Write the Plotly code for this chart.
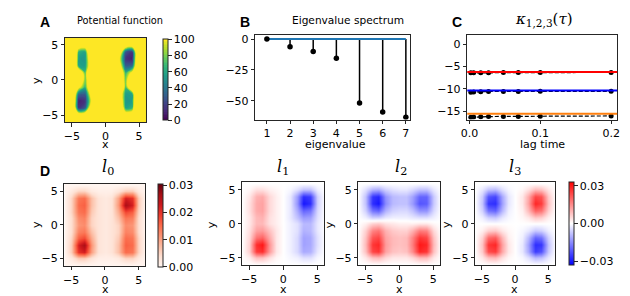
import plotly.graph_objects as go

# ---------------- data ----------------
grid = [-6, -5, -4, -3, -2, -1, 0, 1, 2, 3, 4, 5, 6]

# rows listed from y=6 (top) down to y=-6 (bottom); columns x=-6..6
potential_rows = [
    [250, 250, 250, 250, 250, 250, 250, 250, 250, 250, 250, 250, 250],
    [250, 250, 140, 130, 250, 250, 250, 250, 250, 140, 130, 250, 250],
    [250, 230, 65, 58, 180, 250, 250, 250, 150, 28, 15, 180, 250],
    [250, 220, 55, 52, 150, 250, 250, 250, 110, 15, 8, 180, 250],
    [250, 220, 58, 55, 140, 250, 250, 250, 130, 30, 35, 180, 250],
    [250, 250, 150, 70, 200, 250, 250, 250, 160, 65, 110, 230, 250],
    [250, 250, 160, 75, 160, 250, 250, 250, 160, 75, 160, 250, 250],
    [250, 230, 110, 65, 160, 250, 250, 250, 200, 70, 150, 250, 250],
    [250, 180, 35, 30, 130, 250, 250, 250, 140, 55, 58, 220, 250],
    [250, 180, 8, 15, 110, 250, 250, 250, 150, 52, 55, 220, 250],
    [250, 180, 15, 28, 150, 250, 250, 250, 180, 58, 65, 230, 250],
    [250, 250, 130, 140, 250, 250, 250, 250, 250, 130, 140, 250, 250],
    [250, 250, 250, 250, 250, 250, 250, 250, 250, 250, 250, 250, 250],
]

l0_rows = [
    [0, 0, 0, 0, 0, 0, 0, 0, 0, 0, 0, 0, 0],
    [0, 0.002, 0.005, 0.005, 0.002, 0.001, 0.001, 0.001, 0.003, 0.006, 0.006, 0.002, 0],
    [0, 0.005, 0.014, 0.015, 0.007, 0.003, 0.002, 0.003, 0.010, 0.022, 0.020, 0.006, 0],
    [0, 0.005, 0.015, 0.016, 0.007, 0.003, 0.002, 0.003, 0.011, 0.026, 0.022, 0.006, 0],
    [0, 0.005, 0.014, 0.015, 0.006, 0.003, 0.002, 0.003, 0.009, 0.018, 0.016, 0.005, 0],
    [0, 0.004, 0.012, 0.013, 0.005, 0.003, 0.002, 0.003, 0.007, 0.014, 0.013, 0.004, 0],
    [0, 0.004, 0.011, 0.012, 0.005, 0.003, 0.002, 0.003, 0.005, 0.012, 0.011, 0.004, 0],
    [0, 0.004, 0.013, 0.014, 0.007, 0.003, 0.002, 0.003, 0.005, 0.013, 0.012, 0.004, 0],
    [0, 0.005, 0.016, 0.018, 0.009, 0.003, 0.002, 0.003, 0.006, 0.015, 0.014, 0.005, 0],
    [0, 0.006, 0.022, 0.026, 0.011, 0.003, 0.002, 0.003, 0.007, 0.016, 0.015, 0.005, 0],
    [0, 0.006, 0.020, 0.022, 0.010, 0.003, 0.002, 0.003, 0.007, 0.015, 0.014, 0.005, 0],
    [0, 0.002, 0.006, 0.006, 0.003, 0.001, 0.001, 0.001, 0.002, 0.005, 0.005, 0.002, 0],
    [0, 0, 0, 0, 0, 0, 0, 0, 0, 0, 0, 0, 0],
]

l1_rows = [
    [0, 0, 0, 0, 0, 0, 0, 0, 0, 0, 0, 0, 0],
    [0, 0.001, 0.004, 0.004, 0.002, 0.001, 0, -0.001, -0.004, -0.008, -0.008, -0.002, 0],
    [0, 0.003, 0.010, 0.011, 0.005, 0.002, 0, -0.003, -0.013, -0.027, -0.025, -0.006, 0],
    [0, 0.004, 0.011, 0.012, 0.005, 0.002, 0, -0.003, -0.014, -0.030, -0.027, -0.006, 0],
    [0, 0.004, 0.011, 0.012, 0.005, 0.002, 0, -0.003, -0.011, -0.020, -0.018, -0.005, 0],
    [0, 0.003, 0.009, 0.010, 0.004, 0.002, 0, -0.003, -0.008, -0.013, -0.012, -0.004, 0],
    [0, 0.003, 0.009, 0.009, 0.004, 0.002, 0, -0.002, -0.004, -0.009, -0.009, -0.003, 0],
    [0, 0.004, 0.012, 0.013, 0.008, 0.003, 0, -0.002, -0.004, -0.010, -0.009, -0.003, 0],
    [0, 0.005, 0.018, 0.020, 0.011, 0.003, 0, -0.002, -0.005, -0.012, -0.011, -0.004, 0],
    [0, 0.006, 0.027, 0.030, 0.014, 0.003, 0, -0.002, -0.005, -0.012, -0.011, -0.004, 0],
    [0, 0.006, 0.025, 0.027, 0.013, 0.003, 0, -0.002, -0.005, -0.011, -0.010, -0.003, 0],
    [0, 0.002, 0.008, 0.008, 0.004, 0.001, 0, -0.001, -0.002, -0.004, -0.004, -0.001, 0],
    [0, 0, 0, 0, 0, 0, 0, 0, 0, 0, 0, 0, 0],
]

l2_rows = [
    [0, 0, 0, 0, 0, 0, 0, 0, 0, 0, 0, 0, 0],
    [0, -0.004, -0.010, -0.011, -0.006, -0.004, -0.003, -0.003, -0.005, -0.008, -0.008, -0.003, 0],
    [0, -0.008, -0.026, -0.028, -0.014, -0.009, -0.008, -0.008, -0.012, -0.020, -0.020, -0.007, 0],
    [0, -0.008, -0.027, -0.030, -0.015, -0.009, -0.008, -0.008, -0.013, -0.022, -0.021, -0.007, 0],
    [0, -0.006, -0.018, -0.020, -0.010, -0.006, -0.005, -0.005, -0.008, -0.014, -0.014, -0.005, 0],
    [0, -0.002, -0.006, -0.006, -0.003, -0.002, -0.002, -0.002, -0.003, -0.004, -0.004, -0.002, 0],
    [0, 0.002, 0.006, 0.007, 0.004, 0.003, 0.002, 0.002, 0.002, 0.003, 0.003, 0.001, 0],
    [0, 0.006, 0.016, 0.018, 0.010, 0.007, 0.006, 0.006, 0.010, 0.017, 0.016, 0.005, 0],
    [0, 0.008, 0.022, 0.024, 0.012, 0.009, 0.008, 0.009, 0.016, 0.026, 0.024, 0.008, 0],
    [0, 0.009, 0.026, 0.028, 0.013, 0.009, 0.008, 0.009, 0.017, 0.030, 0.028, 0.009, 0],
    [0, 0.008, 0.024, 0.026, 0.012, 0.008, 0.007, 0.008, 0.015, 0.028, 0.026, 0.008, 0],
    [0, 0.003, 0.008, 0.009, 0.005, 0.003, 0.003, 0.003, 0.005, 0.009, 0.009, 0.003, 0],
    [0, 0, 0, 0, 0, 0, 0, 0, 0, 0, 0, 0, 0],
]

l3_rows = [
    [0, 0, 0, 0, 0, 0, 0, 0, 0, 0, 0, 0, 0],
    [0, -0.003, -0.008, -0.009, -0.004, -0.001, 0, 0.001, 0.004, 0.009, 0.008, 0.003, 0],
    [0, -0.007, -0.022, -0.024, -0.011, -0.003, 0, 0.003, 0.011, 0.024, 0.022, 0.007, 0],
    [0, -0.008, -0.026, -0.027, -0.012, -0.003, 0, 0.003, 0.012, 0.028, 0.025, 0.008, 0],
    [0, -0.006, -0.018, -0.020, -0.009, -0.002, 0, 0.002, 0.009, 0.020, 0.018, 0.006, 0],
    [0, -0.002, -0.006, -0.007, -0.003, -0.001, 0, 0.001, 0.003, 0.007, 0.006, 0.002, 0],
    [0, 0, 0, 0, 0, 0, 0, 0, 0, 0, 0, 0, 0],
    [0, 0.002, 0.006, 0.007, 0.003, 0.001, 0, -0.001, -0.003, -0.007, -0.006, -0.002, 0],
    [0, 0.006, 0.019, 0.021, 0.009, 0.002, 0, -0.002, -0.009, -0.020, -0.018, -0.006, 0],
    [0, 0.008, 0.026, 0.028, 0.012, 0.003, 0, -0.003, -0.012, -0.027, -0.026, -0.008, 0],
    [0, 0.007, 0.023, 0.025, 0.011, 0.003, 0, -0.003, -0.011, -0.025, -0.022, -0.007, 0],
    [0, 0.003, 0.008, 0.009, 0.004, 0.001, 0, -0.001, -0.004, -0.009, -0.008, -0.003, 0],
    [0, 0, 0, 0, 0, 0, 0, 0, 0, 0, 0, 0, 0],
]

eig_index = [1, 2, 3, 4, 5, 6, 7]
eig_values = [0.0, -6.2, -10.2, -15.6, -51.9, -59.2, -63.5]

lag_times = [0.002, 0.006, 0.016, 0.027, 0.048, 0.069, 0.1, 0.2]
kappa_true = [-6.2, -10.4, -15.6]
kappa_est = [
    [-6.4, -6.4, -6.35, -6.35, -6.3, -6.3, -6.3, -6.3],
    [-10.75, -10.7, -10.65, -10.6, -10.6, -10.6, -10.55, -10.55],
    [-16.4, -16.35, -16.3, -16.25, -16.2, -16.2, -16.15, -16.1],
]
kappa_colors = ["#ff0000", "#0000ff", "#ff7f0e"]

# ---------------- styles ----------------
FONT = "DejaVu Sans"
TICKF = dict(family=FONT, size=11, color="black")
LINEC = "#262626"
W, H = 630, 296

reds = ['rgb(255,245,240)', 'rgb(254,224,210)', 'rgb(252,187,161)', 'rgb(252,146,114)',
        'rgb(251,106,74)', 'rgb(239,59,44)', 'rgb(203,24,29)', 'rgb(165,15,21)', 'rgb(103,0,13)']
reds_scale = [[i / (len(reds) - 1), c] for i, c in enumerate(reds)]
bwr_scale = [[0, "rgb(0,0,255)"], [0.5, "rgb(255,255,255)"], [1, "rgb(255,0,0)"]]


def px_x(p):
    return p / W


def px_y(p):
    return 1 - p / H


fig = go.Figure()


def rev(rows):
    return rows[::-1]


y_grid = grid  # ascending


def cbar(x_left, top, bottom, tickvals, fmt):
    return dict(
        x=px_x(x_left), xanchor="left", xpad=0, ypad=0,
        y=px_y((top + bottom) / 2), yanchor="middle",
        len=(bottom - top) / H, lenmode="fraction", thickness=5,
        outlinewidth=1, outlinecolor=LINEC,
        ticks="outside", ticklen=3.5, tickwidth=1, tickcolor=LINEC,
        tickvals=tickvals, tickformat=fmt, tickfont=TICKF,
    )


# Panel A: potential drawn as finely-filled contours (true z interpolation, clipped at 100)
fig.add_trace(go.Contour(
    x=grid, y=y_grid, z=rev(potential_rows), zmin=0, zmax=100,
    autocontour=False, contours=dict(start=0, end=100, size=2, coloring="fill", showlines=False),
    line=dict(width=0), colorscale="Viridis", xaxis="x", yaxis="y",
    colorbar=cbar(159, 37.3, 119.3, [0, 20, 40, 60, 80, 100], "d"),
))

# Panel B: stem plot
stem_x, stem_y = [], []
for i, v in zip(eig_index, eig_values):
    stem_x += [i, i, None]
    stem_y += [0, v, None]
fig.add_trace(go.Scatter(x=stem_x, y=stem_y, mode="lines", line=dict(color="black", width=1.5),
                         xaxis="x2", yaxis="y2", showlegend=False, hoverinfo="skip"))
fig.add_trace(go.Scatter(x=[min(eig_index), max(eig_index)], y=[0, 0], mode="lines",
                         line=dict(color="#1f77b4", width=2), xaxis="x2", yaxis="y2", showlegend=False))
fig.add_trace(go.Scatter(x=eig_index, y=eig_values, mode="markers",
                         marker=dict(color="black", size=5.5), xaxis="x2", yaxis="y2", showlegend=False))

# Panel C
for kt, est, col in zip(kappa_true, kappa_est, kappa_colors):
    fig.add_shape(type="line", xref="x3 domain", yref="y3", x0=0, x1=1, y0=kt, y1=kt,
                  line=dict(color=col, width=2))
    fig.add_trace(go.Scatter(x=lag_times, y=est, mode="lines+markers",
                             line=dict(color="black", width=1.2, dash="4px,2px"),
                             marker=dict(color="black", size=5),
                             xaxis="x3", yaxis="y3", showlegend=False))

# Panel D
fig.add_trace(go.Heatmap(
    x=grid, y=y_grid, z=rev(l0_rows), zmin=0, zmax=0.0305, zsmooth="best",
    colorscale=reds_scale, xaxis="x4", yaxis="y4",
    colorbar=cbar(153.3, 183.3, 266.7, [0, 0.01, 0.02, 0.03], ".2f"),
))
for rows, xa, ya in [(l1_rows, "x5", "y5"), (l2_rows, "x6", "y6")]:
    fig.add_trace(go.Heatmap(
        x=grid, y=y_grid, z=rev(rows), zmin=-0.033, zmax=0.033, zsmooth="best",
        colorscale=bwr_scale, xaxis=xa, yaxis=ya, showscale=False))
fig.add_trace(go.Heatmap(
    x=grid, y=y_grid, z=rev(l3_rows), zmin=-0.033, zmax=0.033, zsmooth="best",
    colorscale=bwr_scale, xaxis="x7", yaxis="y7",
    colorbar=cbar(571, 181, 265, [-0.03, 0, 0.03], ".2f"),
))


def axis(dom, rng, tickvals=None, fmt=None, anchor=None):
    d = dict(domain=dom, range=rng, showline=True, mirror=True, linecolor=LINEC, linewidth=1,
             ticks="outside", ticklen=3.5, tickwidth=1, tickcolor=LINEC, showgrid=False,
             zeroline=False, tickfont=TICKF, anchor=anchor, fixedrange=True)
    if tickvals is not None:
        d["tickvals"] = tickvals
    if fmt is not None:
        d["tickformat"] = fmt
    return d


hm_ticks = [-5, 0, 5]
panels = {
    # name: (x px left, right, y px top, bottom)
    "1": (59, 141, 36, 121),
    "2": (252.3, 410, 33.3, 118.3),
    "3": (467.7, 620, 33.3, 118.3),
    "4": (58.3, 140.7, 183.3, 265.7),
    "5": (239, 322.3, 181.7, 265),
    "6": (357, 440, 181.7, 265),
    "7": (475.7, 556.7, 181.7, 265),
}

layout = dict(width=W, height=H, margin=dict(l=0, r=0, t=0, b=0),
              paper_bgcolor="white", plot_bgcolor="white", showlegend=False,
              font=dict(family=FONT, color="black"))

for k, (l, r, t, b) in panels.items():
    xd = [px_x(l), px_x(r)]
    yd = [px_y(b), px_y(t)]
    xn = "xaxis" if k == "1" else "xaxis" + k
    yn = "yaxis" if k == "1" else "yaxis" + k
    xa = "x" if k == "1" else "x" + k
    ya = "y" if k == "1" else "y" + k
    if k == "2":
        layout[xn] = axis(xd, [0.5, 7.2], tickvals=eig_index, anchor=ya)
        layout[yn] = axis(yd, [-65.3, 3.2], tickvals=[0, -25, -50], anchor=xa)
    elif k == "3":
        layout[xn] = axis(xd, [-0.003, 0.2085], tickvals=[0, 0.1, 0.2], fmt=".1f", anchor=ya)
        layout[yn] = axis(yd, [-16.9, 2.1], tickvals=[0, -5, -10, -15], anchor=xa)
    elif k == "1":
        layout[xn] = axis(xd, [-6, 6], tickvals=hm_ticks, anchor=ya)
        layout[yn] = axis(yd, [-6, 6], tickvals=hm_ticks, anchor=xa)
    else:
        layout[xn] = axis(xd, [-6, 6], tickvals=hm_ticks, anchor=ya)
        layout[yn] = axis(yd, [-6.1, 6.1], tickvals=hm_ticks, anchor=xa)

fig.update_layout(**layout)


def ann(text, xpx, ypx, size, family=FONT, angle=0, bold=False):
    t = f"<b>{text}</b>" if bold else text
    fig.add_annotation(text=t, x=px_x(xpx), y=px_y(ypx), xref="paper", yref="paper",
                       showarrow=False, xanchor="center", yanchor="middle", textangle=angle,
                       font=dict(family=family, size=size, color="black"))


# panel letters
for letter, xp, yp in [("A", 39, 20), ("B", 242, 20), ("C", 457, 20), ("D", 39, 170)]:
    ann(letter, xp, yp, 14, family="Liberation Sans", bold=True)

# titles
ann("Potential function", 115, 19, 9.8)
ann("Eigenvalue spectrum", 346, 18, 10.6)
ann("<i>κ</i><sub>1,2,3</sub>(<i>τ</i>)", 546, 18, 15, family="DejaVu Serif")
for txt, xp in [("<i>l</i><sub>0</sub>", 103), ("<i>l</i><sub>1</sub>", 280),
                ("<i>l</i><sub>2</sub>", 400), ("<i>l</i><sub>3</sub>", 516)]:
    ann(txt, xp, 167, 16, family="DejaVu Serif")

# axis labels
ann("x", 100, 143, 11)
ann("y", 30, 79, 11, angle=-90)
ann("eigenvalue", 334, 143, 11)
ann("lag time", 544, 143, 11)
for xp in [100, 280.5, 398.5, 516]:
    ann("x", xp, 289, 11)
for xp in [30, 208, 328, 446.7]:
    ann("y", xp, 224, 11, angle=-90)

fig.write_html("out.html", config={"displayModeBar": False},
               post_script="document.body.style.margin='0';document.body.style.overflow='hidden';")
